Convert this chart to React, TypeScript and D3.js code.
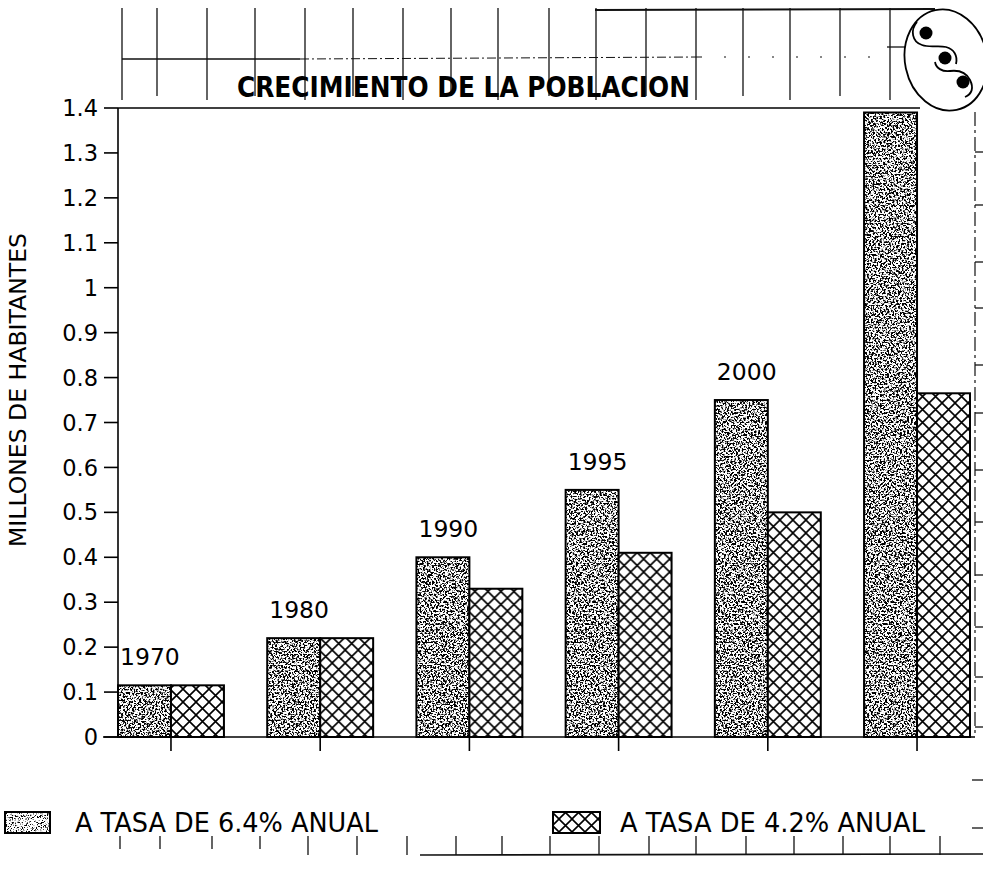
import React from 'react';
import * as d3 from 'd3';

// Data
const years = ['1970', '1980', '1990', '1995', '2000', ''];
const seriesNames = ['A TASA DE 6.4% ANUAL', 'A TASA DE 4.2% ANUAL'];
const rate64 = [0.115, 0.22, 0.4, 0.55, 0.75, 1.39];
const rate42 = [0.115, 0.22, 0.33, 0.41, 0.5, 0.765];
const yTicks = [0, 0.1, 0.2, 0.3, 0.4, 0.5, 0.6, 0.7, 0.8, 0.9, 1, 1.1, 1.2, 1.3, 1.4];

// Decorative ruler marks of the scanned page
const topRuler = [122, 157, 207, 255, 305, 353, 403, 451, 498, 549, 596, 646, 696, 743, 790, 840, 890];
const bottomRuler = [120, 160, 212, 260, 308, 357, 407, 456, 502, 550, 599, 649, 696, 746, 794, 843, 890, 940];
const rightRuler = [152, 205, 262, 308, 365, 413, 470, 522, 575, 627, 677, 727, 780, 828];

const W = 983;
const H = 869;
const FONT = '"DejaVu Sans", Verdana, sans-serif';
const NARROW = '"Liberation Sans Narrow", "DejaVu Sans Condensed", "DejaVu Sans", sans-serif';

const App: React.FC = () => {
  const y = d3.scaleLinear().domain([0, 1.4]).range([737, 108]);
  const x0 = d3.scaleBand<number>()
    .domain(d3.range(years.length))
    .range([118, 970])
    .paddingInner(0.29)
    .paddingOuter(0);
  const x1 = d3.scaleBand<number>().domain([0, 1]).range([0, x0.bandwidth()]);

  const series = [rate64, rate42];

  return (
    <svg width={W} height={H} style={{ position: 'absolute', left: 0, top: 0, background: '#fff' }}>
      <defs>
        <filter id="stipple" x="0" y="0" width="1" height="1" filterUnits="objectBoundingBox">
          <feTurbulence type="fractalNoise" baseFrequency="0.55" numOctaves="3" seed="7" result="n" />
          <feColorMatrix in="n" type="matrix"
            values="0 0 0 0 0  0 0 0 0 0  0 0 0 0 0  9 0 0 0 -4.25" />
        </filter>
        <filter id="stippleLight" x="0" y="0" width="1" height="1" filterUnits="objectBoundingBox">
          <feTurbulence type="fractalNoise" baseFrequency="0.8" numOctaves="3" seed="3" result="n" />
          <feColorMatrix in="n" type="matrix"
            values="0 0 0 0 0  0 0 0 0 0  0 0 0 0 0  7 0 0 0 -3.7" />
        </filter>
        <pattern id="hatch" patternUnits="userSpaceOnUse" width="13" height="13">
          <rect width="13" height="13" fill="#fff" />
          <path d="M-1,-1 L14,14 M14,-1 L-1,14" stroke="#000" strokeWidth="1.6" />
        </pattern>
      </defs>

      {/* page ruler marks and title box */}
      <g stroke="#111" strokeWidth="1.3" fill="none">
        {topRuler.map((rx, i) => (
          <line key={i} x1={rx} x2={rx} y1={8} y2={i % 2 === 0 ? 100 : 96} />
        ))}
        <line x1={122} x2={300} y1={59} y2={59} />
        <line x1={300} x2={700} y1={59} y2={57} strokeDasharray="9 3 2 3" strokeWidth="1" />
        <line x1={700} x2={885} y1={57} y2={57} strokeDasharray="2 22" strokeWidth="1.2" />
        <line x1={595} x2={935} y1={10} y2={9} strokeWidth="2" />
        <line x1={887} x2={905} y1={47} y2={47} />
        {bottomRuler.map((bx, i) => (
          <line key={i} x1={bx} x2={bx} y1={836} y2={i < 4 ? 849 : 855} />
        ))}
        <line x1={420} x2={983} y1={855} y2={854} strokeWidth="1.6" />
        <line x1={975} x2={975} y1={112} y2={737} strokeDasharray="14 4 3 4" strokeWidth="1.2" />
        {rightRuler.map((ry, i) => (
          <line key={i} x1={ry > 740 ? 972 : 975} x2={983} y1={ry} y2={ry} />
        ))}
      </g>

      {/* logo */}
      <g stroke="#000" strokeWidth="1.8" fill="none">
        <ellipse cx={946} cy={60} rx={41} ry={51} transform="rotate(-12 946 60)" />
        <path d="M917,22 C910,30 912,42 922,45 C930,48 938,45 946,47 C954,49 958,56 956,64" />
        <path d="M935,62 C936,68 942,72 950,71 C958,70 966,72 970,80 C974,88 972,94 965,97" />
      </g>
      <g fill="#000">
        <circle cx={926} cy={33} r={6.5} />
        <circle cx={945} cy={58} r={6.5} />
        <circle cx={963} cy={82} r={6.5} />
      </g>

      {/* title */}
      <text x={237} y={97} fontFamily={NARROW} fontWeight="bold" fontSize={28}
        textLength={453} lengthAdjust="spacingAndGlyphs" fill="#000">
        CRECIMIENTO DE LA POBLACION
      </text>

      {/* axes */}
      <g stroke="#000" strokeWidth="1.6">
        <line x1={118} x2={118} y1={108} y2={737} />
        <line x1={118} x2={920} y1={108} y2={108} />
        <line x1={103} x2={975} y1={737} y2={737} />
        {yTicks.map((t) => (
          <line key={t} x1={104} x2={118} y1={y(t)} y2={y(t)} />
        ))}
        {x0.domain().map((i) => (
          <line key={i} x1={x0(i)! + x0.bandwidth() / 2} x2={x0(i)! + x0.bandwidth() / 2} y1={737} y2={751} />
        ))}
      </g>
      <g fontFamily={FONT} fontSize={22.5} fill="#000" textAnchor="end">
        {yTicks.map((t) => (
          <text key={t} x={98} y={y(t)} dy="0.36em">{d3.format('~g')(t)}</text>
        ))}
      </g>
      <text transform="translate(26,390) rotate(-90)" textAnchor="middle"
        fontFamily={FONT} fontSize={23} fill="#000" textLength={314} lengthAdjust="spacingAndGlyphs">
        MILLONES DE HABITANTES
      </text>

      {/* bars */}
      {x0.domain().map((i) => (
        <g key={i} transform={`translate(${x0(i)},0)`}>
          {series.map((s, k) => {
            const bx = x1(k)!;
            const by = y(s[i]);
            const bw = x1.bandwidth();
            const bh = y(0) - by;
            return (
              <g key={k}>
                {k === 0 ? (
                  <>
                    <rect x={bx} y={by} width={bw} height={bh} fill="#fff" />
                    <rect x={bx} y={by} width={bw} height={bh} fill="#000" filter="url(#stipple)" />
                  </>
                ) : (
                  <rect x={bx} y={by} width={bw} height={bh} fill="url(#hatch)" />
                )}
                <rect x={bx} y={by} width={bw} height={bh} fill="none" stroke="#000" strokeWidth="2" />
              </g>
            );
          })}
          {years[i] && (
            <text x={2} y={y(series[0][i]) - 20} fontFamily={FONT} fontSize={23.5} fill="#000">
              {years[i]}
            </text>
          )}
        </g>
      ))}

      {/* legend */}
      <rect x={5} y={812} width={45} height={21} fill="#fff" />
      <rect x={5} y={812} width={45} height={21} fill="#000" filter="url(#stippleLight)" />
      <rect x={5} y={812} width={45} height={21} fill="none" stroke="#000" strokeWidth="2" />
      <text x={75} y={832} fontFamily={FONT} fontSize={27} fill="#000"
        textLength={303} lengthAdjust="spacingAndGlyphs">{seriesNames[0]}</text>
      <rect x={553} y={812} width={47} height={21} fill="url(#hatch)" stroke="#000" strokeWidth="2" />
      <text x={620} y={832} fontFamily={FONT} fontSize={27} fill="#000"
        textLength={305} lengthAdjust="spacingAndGlyphs">{seriesNames[1]}</text>
    </svg>
  );
};

export default App;
